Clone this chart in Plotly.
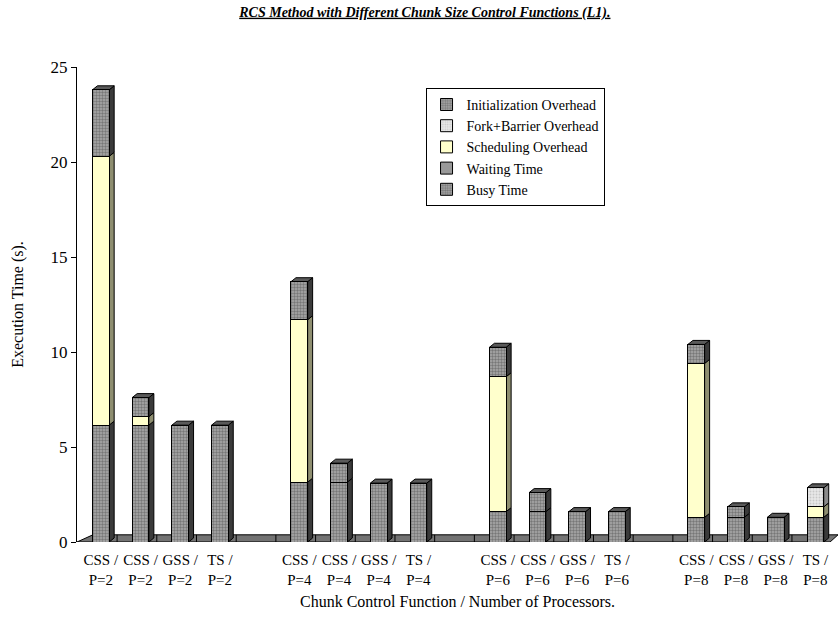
import plotly.graph_objects as go

# Chunk control functions and processor counts
functions = ["CSS", "CSS", "GSS", "TS"]
processors = [2, 4, 6, 8]

# Execution-time components (s), one value per function within each processor group
busy_time = [6.15, 6.15, 6.15, 6.15,
             3.15, 3.15, 3.10, 3.10,
             1.60, 1.60, 1.60, 1.60,
             1.30, 1.30, 1.30, 1.30]
waiting_time = [0.0] * 16
scheduling_overhead = [14.15, 0.45, 0.0, 0.0,
                       8.55, 0.0, 0.0, 0.0,
                       7.10, 0.0, 0.0, 0.0,
                       8.10, 0.0, 0.0, 0.55]
fork_barrier_overhead = [0.0, 0.0, 0.0, 0.0,
                         0.0, 0.0, 0.0, 0.0,
                         0.0, 0.0, 0.0, 0.0,
                         0.0, 0.0, 0.0, 1.00]
init_overhead = [3.50, 1.00, 0.0, 0.0,
                 2.00, 1.00, 0.0, 0.0,
                 1.55, 1.00, 0.0, 0.0,
                 1.00, 0.55, 0.0, 0.0]

# Slot positions: four bars per group, one empty slot between groups
xpos, ticktext = [], []
for g, p in enumerate(processors):
    for j, f in enumerate(functions):
        xpos.append(g * 5 + j)
        ticktext.append(f"{f} /<br>P={p}")

BAR_W = 0.42
DX, DY = 0.126, 0.21     # depth offsets of the pseudo-3D faces (x units, y units)
FONT = "Liberation Serif"

series = [
    ("Busy Time", busy_time, dict(bgcolor="#aaaaaa", fgcolor="#444444", shape=".", size=3, solidity=0.5), "#3a3a3a"),
    ("Waiting Time", waiting_time, dict(shape=""), "#5e5e5e"),
    ("Scheduling Overhead", scheduling_overhead, dict(shape=""), "#8e8e70"),
    ("Fork+Barrier Overhead", fork_barrier_overhead, dict(bgcolor="#e8e8e8", fgcolor="#a8a8a8", shape=".", size=3, solidity=0.3), "#8a8a8a"),
    ("Initialization Overhead", init_overhead, dict(bgcolor="#aaaaaa", fgcolor="#444444", shape=".", size=3, solidity=0.5), "#3a3a3a"),
]
fills = {
    "Busy Time": "#8a8a8a",
    "Waiting Time": "#999999",
    "Scheduling Overhead": "#ffffcc",
    "Fork+Barrier Overhead": "#e0e0e0",
    "Initialization Overhead": "#888888",
}

fig = go.Figure()
for name, vals, pat, _ in series:
    fig.add_trace(go.Bar(
        x=xpos, y=vals, name=name, width=BAR_W,
        marker=dict(color=fills[name], pattern=pat, line=dict(color="black", width=1)),
        hoverinfo="skip",
    ))

shapes = []
# Floor under the bars
x_lo, x_hi = -0.6, 18.57
shapes.append(dict(type="path", xref="x", yref="y", layer="below",
                   path=f"M {x_lo},0 L {x_hi - 0.2},0 L {x_hi},{1.8 * DY} L {x_lo + 0.4},{1.8 * DY} Z",
                   fillcolor="#737373", line=dict(color="black", width=1)))
for k in range(-1, 19):
    xd = k + 0.41
    if x_lo + 0.4 < xd < x_hi - 0.2:
        shapes.append(dict(type="line", xref="x", yref="y", layer="below",
                           x0=xd, x1=xd, y0=0, y1=1.8 * DY, line=dict(color="black", width=1)))

# Side and top faces of each stacked column
for i, x in enumerate(xpos):
    base = 0.0
    xl, xr = x - BAR_W / 2, x + BAR_W / 2
    for name, vals, _, side in series:
        v = vals[i]
        if v <= 0:
            continue
        top = base + v
        shapes.append(dict(type="path", xref="x", yref="y", layer="below",
                           path=f"M {xr},{base} L {xr + DX},{base + DY} L {xr + DX},{top + DY} L {xr},{top} Z",
                           fillcolor=side, line=dict(color="black", width=1)))
        base = top
    shapes.append(dict(type="path", xref="x", yref="y", layer="below",
                       path=f"M {xl},{base} L {xl + DX},{base + DY} L {xr + DX},{base + DY} L {xr},{base} Z",
                       fillcolor="#5a5a5a", line=dict(color="black", width=1)))

fig.update_layout(
    width=838, height=622,
    margin=dict(l=77, r=0, t=67, b=80),
    barmode="stack",
    paper_bgcolor="white", plot_bgcolor="white",
    font=dict(family=FONT, color="black"),
    title=dict(
        text="RCS Method with Different Chunk Size Control Functions (L1).",
        x=0.507, xref="container", xanchor="center",
        y=0.981, yref="container", yanchor="middle",
        font=dict(family=FONT, size=14, weight="bold", style="italic", lineposition="under"),
    ),
    legend=dict(
        x=0.458, y=0.956, xanchor="left", yanchor="top",
        bgcolor="white", bordercolor="black", borderwidth=1,
        font=dict(family=FONT, size=14),
        traceorder="reversed", itemwidth=30,
    ),
    shapes=shapes,
)
fig.update_xaxes(
    range=[x_lo, x_hi], tickmode="array", tickvals=xpos, ticktext=ticktext,
    showgrid=False, zeroline=False, showline=False, ticks="",
    tickfont=dict(family=FONT, size=15), ticklabelstandoff=7,
    title=dict(text="Chunk Control Function / Number of Processors.",
               font=dict(family=FONT, size=16), standoff=9),
)
fig.update_yaxes(
    range=[0, 25], tickvals=[0, 5, 10, 15, 20, 25],
    showgrid=False, zeroline=False, showline=True, linecolor="black", linewidth=1,
    ticks="outside", ticklen=5, tickcolor="black",
    tickfont=dict(family=FONT, size=17),
    title=dict(text="Execution Time (s).", font=dict(family=FONT, size=16), standoff=22),
)

fig.write_html("out.html")
